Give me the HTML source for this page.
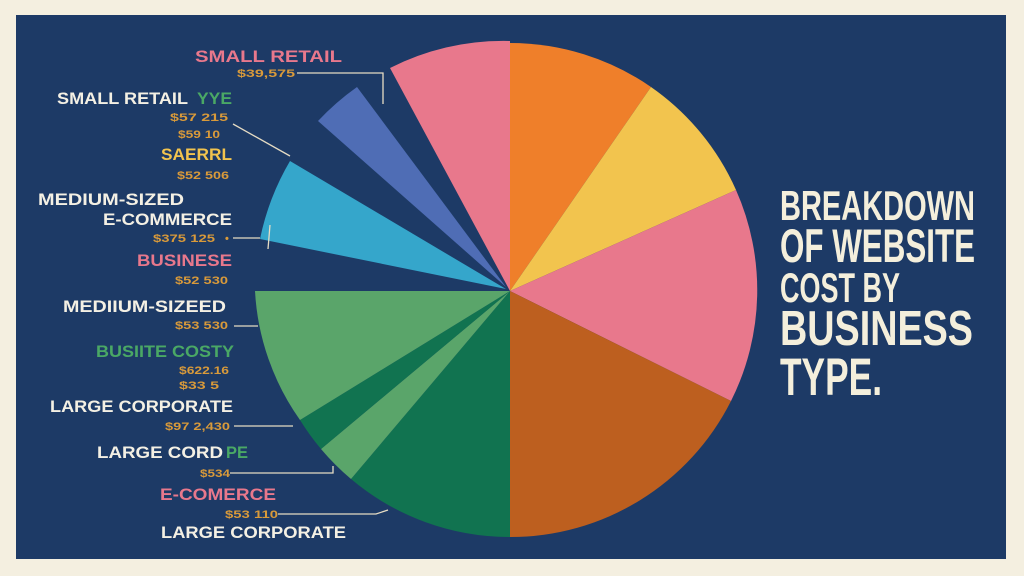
<!DOCTYPE html>
<html><head><meta charset="utf-8"><style>
html,body{margin:0;padding:0;background:#f4efe0;}
svg{display:block}
text{font-family:"Liberation Sans",sans-serif;font-weight:bold;}
.n{font-family:"Liberation Sans Narrow","Liberation Sans",sans-serif;fill:#f4efdc;}
.s{font-size:11px;fill:#d99a3a;font-weight:600;}
.w{fill:#f4f0e4}
</style></head><body>
<svg width="1024" height="576" viewBox="0 0 1024 576" xmlns="http://www.w3.org/2000/svg">
<rect width="1024" height="576" fill="#f4efe0"/>
<rect x="16" y="15" width="990" height="544" fill="#1d3a66"/>
<g transform="translate(510,291)">
<path d="M0,0 L0,-248 A248,248 0 0 1 141,-204 Z" fill="#ef7f2a"/>
<path d="M0,0 L141,-204 A248,248 0 0 1 226,-101 Z" fill="#f2c44e"/>
<path d="M0,0 L226,-101 A247,247 0 0 1 221,110 Z" fill="#e8788c"/>
<path d="M0,0 L221,110 A247,247 0 0 1 0,246 Z" fill="#bd5f1f"/>
<path d="M0,0 L0,246 A246,246 0 0 1 -159,188 Z" fill="#117350"/>
<path d="M0,0 L-159,188 A246,246 0 0 1 -189,158 Z" fill="#5aa56a"/>
<path d="M0,0 L-189,158 A246,246 0 0 1 -210,129 Z" fill="#117350"/>
<path d="M0,0 L-210,129 A246,246 0 0 1 -255,0 Z" fill="#5aa56a"/>
<path d="M-4,-2 L-250,-52 A255,255 0 0 1 -220,-130 Z" fill="#35a6cb"/>
<path d="M-4,-4 L-192,-170 A256,256 0 0 1 -153,-204 Z" fill="#4f6db5"/>
<path d="M0,0 L-120,-223 A253,253 0 0 1 0,-250 Z" fill="#e8788c"/>
</g>
<g stroke="#e6dcc4" stroke-width="1.3" fill="none">
<path d="M297,73 H383 V104"/>
<path d="M233,124 L290,156"/>
<path d="M233,238 H260"/>
<path d="M270,225 L268,249"/>
<path d="M234,326 H258"/>
<path d="M234,426 H293"/>
<path d="M230,473 H333 V466"/>
<path d="M278,514 H376 L388,510"/>
</g>
<text x="195" y="62" font-size="17" fill="#e8788c" textLength="147" lengthAdjust="spacingAndGlyphs">SMALL RETAIL</text>
<text class="s" x="237" y="77" textLength="58" lengthAdjust="spacingAndGlyphs">$39,575</text>
<text class="w" x="57" y="104" font-size="17" textLength="131" lengthAdjust="spacingAndGlyphs">SMALL RETAIL</text>
<text x="197" y="104" font-size="17" fill="#4aa865" textLength="35" lengthAdjust="spacingAndGlyphs">YYE</text>
<text class="s" x="170" y="121" textLength="58" lengthAdjust="spacingAndGlyphs">$57 215</text>
<text class="s" x="178" y="138" textLength="42" lengthAdjust="spacingAndGlyphs">$59 10</text>
<text x="161" y="160" font-size="17" fill="#f2c44e" textLength="71" lengthAdjust="spacingAndGlyphs">SAERRL</text>
<text class="s" x="177" y="179" textLength="52" lengthAdjust="spacingAndGlyphs">$52 506</text>
<text class="w" x="38" y="205" font-size="17" textLength="146" lengthAdjust="spacingAndGlyphs">MEDIUM-SIZED</text>
<text class="w" x="103" y="225" font-size="17" textLength="129" lengthAdjust="spacingAndGlyphs">E-COMMERCE</text>
<text class="s" x="153" y="242" textLength="62" lengthAdjust="spacingAndGlyphs">$375 125</text>
<text class="s" x="225" y="242">•</text>
<text x="137" y="266" font-size="17" fill="#e8788c" textLength="95" lengthAdjust="spacingAndGlyphs">BUSINESE</text>
<text class="s" x="175" y="284" textLength="53" lengthAdjust="spacingAndGlyphs">$52 530</text>
<text class="w" x="63" y="312" font-size="17" textLength="163" lengthAdjust="spacingAndGlyphs">MEDIIUM-SIZEED</text>
<text class="s" x="175" y="329" textLength="53" lengthAdjust="spacingAndGlyphs">$53 530</text>
<text x="96" y="357" font-size="17" fill="#4aa865" textLength="138" lengthAdjust="spacingAndGlyphs">BUSIITE COSTY</text>
<text class="s" x="179" y="374" textLength="50" lengthAdjust="spacingAndGlyphs">$622.16</text>
<text class="s" x="179" y="389" textLength="40" lengthAdjust="spacingAndGlyphs">$33 5</text>
<text class="w" x="50" y="412" font-size="17" textLength="183" lengthAdjust="spacingAndGlyphs">LARGE CORPORATE</text>
<text class="s" x="165" y="430" textLength="65" lengthAdjust="spacingAndGlyphs">$97 2,430</text>
<text class="w" x="97" y="458" font-size="17" textLength="126" lengthAdjust="spacingAndGlyphs">LARGE CORD</text>
<text x="226" y="458" font-size="17" fill="#4aa865" textLength="22" lengthAdjust="spacingAndGlyphs">PE</text>
<text class="s" x="200" y="477" textLength="30" lengthAdjust="spacingAndGlyphs">$534</text>
<text x="160" y="500" font-size="17" fill="#e8788c" textLength="116" lengthAdjust="spacingAndGlyphs">E-COMERCE</text>
<text class="s" x="225" y="518" textLength="53" lengthAdjust="spacingAndGlyphs">$53 110</text>
<text class="w" x="161" y="538" font-size="17" textLength="185" lengthAdjust="spacingAndGlyphs">LARGE CORPORATE</text>
<text class="n" x="780" y="220" font-size="42" textLength="195" lengthAdjust="spacingAndGlyphs">BREAKDOWN</text>
<text class="n" x="780" y="262" font-size="47" textLength="195" lengthAdjust="spacingAndGlyphs">OF WEBSITE</text>
<text class="n" x="780" y="302" font-size="42" textLength="120" lengthAdjust="spacingAndGlyphs">COST BY</text>
<text class="n" x="780" y="345" font-size="49" textLength="193" lengthAdjust="spacingAndGlyphs">BUSINESS</text>
<text class="n" x="780" y="395" font-size="53" textLength="102" lengthAdjust="spacingAndGlyphs">TYPE.</text>
</svg>
</body></html>
